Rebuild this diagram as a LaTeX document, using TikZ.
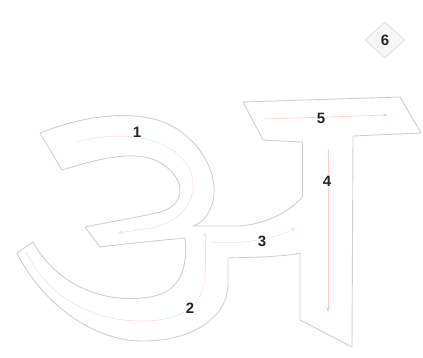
\documentclass[tikz,border=0pt]{standalone}
\usepackage{fontspec}
\setmainfont{Liberation Sans}
\usetikzlibrary{shapes.geometric,arrows.meta}
\begin{document}
\begin{tikzpicture}[x=1pt,y=-1pt,
  outline/.style={draw=gray!38,line width=0.9pt,line join=round},
  guide/.style={draw=red!14,line width=0.6pt},
  guidetip/.style={guide,-{Stealth[length=5pt,width=3.5pt]}},
  num/.style={font=\bfseries\fontsize{15}{15}\selectfont,text=black!85,inner sep=1pt,fill=white}]
\useasboundingbox (0,0) rectangle (423,358);
% ---- stroke 1: upper bowl and middle bar
\draw[outline] (62,170) -- (40,133)
  .. controls (90,113) and (140,110) .. (170,125)
  .. controls (205,143) and (220,180) .. (212,205)
  .. controls (207,218) and (200,224) .. (193,226);
\draw[outline] (62,170)
  .. controls (95,160) and (130,150) .. (155,160)
  .. controls (187,175) and (188,205) .. (160,212)
  .. controls (140,217) and (110,222) .. (85,227)
  -- (100,247)
  .. controls (130,243) and (165,240) .. (185,238);
% ---- stroke 2: lower bowl
\draw[outline] (185,238)
  .. controls (188,265) and (182,292) .. (150,297)
  .. controls (100,305) and (55,282) .. (33,242)
  -- (17,253)
  .. controls (40,300) and (90,340) .. (140,341)
  .. controls (195,342) and (228,315) .. (228,285)
  -- (228,258);
% ---- stroke 3: link to the stem
\draw[outline] (193,226) -- (240,226)
  .. controls (265,224) and (290,212) .. (302,197);
\draw[outline] (228,258) -- (262,257)
  .. controls (280,256) and (292,255) .. (300,253);
% ---- stroke 4: stem
\draw[outline] (302,142) -- (302,197);
\draw[outline] (300,253) -- (300,320) -- (352,347) -- (353,136);
% ---- stroke 5: top bar
\draw[outline] (302,142) -- (263,140) -- (243,102) -- (400,97) -- (421,133) -- (353,136);
% ---- guides
\draw[guide] (77,142) .. controls (130,128) and (175,140) .. (190,170)
  .. controls (200,195) and (185,222) .. (150,228);
\draw[guidetip] (150,228) -- (118,233);
\draw[guide] (26,252) .. controls (50,300) and (95,322) .. (145,321)
  .. controls (190,320) and (206,300) .. (205,270);
\draw[guidetip] (205,270) -- (205,232);
\draw[guidetip] (212,242) .. controls (245,245) and (275,238) .. (296,228);
\draw[guidetip,draw=red!22] (328,150) -- (328,312);
\draw[guidetip,draw=red!22] (265,119) -- (388,115);
% ---- numbers
\node[num] (n1) at (137,132) {1};
\node[num] (n2) at (190,308) {2};
\node[num] (n3) at (262,241) {3};
\node[num] (n4) at (327,181) {4};
\node[num] (n5) at (321,118) {5};
\node[diamond,draw=gray!25,fill=gray!6,line width=0.8pt,minimum width=40pt,minimum height=36pt,inner sep=0pt] (d6) at (385,40) {};
\node[num,fill=none] (n6) at (d6.center) {6};
\end{tikzpicture}
\end{document}
